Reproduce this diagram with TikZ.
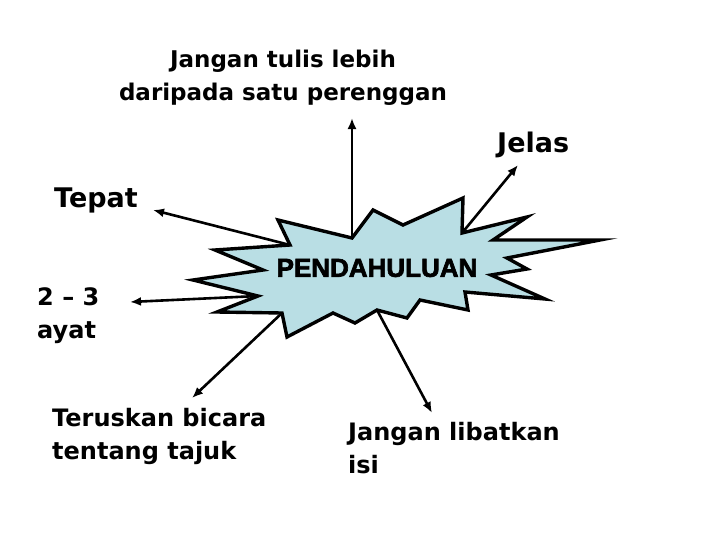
\documentclass[tikz,border=0pt]{standalone}
\usepackage{fontspec}
\usepackage{tikz}
\usetikzlibrary{arrows.meta,positioning}

\newfontfamily\comicfont{DejaVu Sans}
\newfontfamily\heavyfont[FakeBold=2.6]{Liberation Sans Bold}
\definecolor{burstblue}{RGB}{185,222,228}

\begin{document}
\begin{tikzpicture}[x=1pt, y=-1pt,
  >={Latex[length=11pt,width=9pt]},
  every node/.append style={inner sep=0pt},
  lbl/.style={font=\comicfont\bfseries\fontsize{24}{33}\selectfont},
  big/.style={font=\comicfont\bfseries\fontsize{27}{33}\selectfont},
  burst/.style={draw, line width=3.4pt, fill=burstblue, line join=miter, miter limit=20},
  link/.style={->, line width=2.6pt}]
 \useasboundingbox (0,0) rectangle (728,546);

 % the starburst, with named points where the arrows leave it
 \draw[burst] (278,220) -- (352,238) coordinate (pUp) -- (373,210) -- (403,225)
   -- (463,198) -- (462,233) coordinate (pJelas) -- (527,217) -- (493,240)
   -- (600,240) -- (507,258) -- (527,269) -- (491,275) -- (545,299)
   -- (465,292) -- (468,310) -- (420,300) -- (407,318) -- (377,310) coordinate (pIsi)
   -- (355,323) -- (333,313) -- (287,337) -- (282,313) coordinate (pTajuk)
   -- (217,312) -- (258,296) coordinate (pAyat) -- (193,280) -- (263,270)
   -- (215,250) -- (290,245) coordinate (pTepat) -- cycle;
 \node[font=\heavyfont\fontsize{26}{30}\selectfont] (hub) at (377,268) {PENDAHULUAN};

 % labels
 \node[lbl, font=\comicfont\bfseries\fontsize{23}{33}\selectfont, align=center, anchor=north] (lebih) at (283,50) {Jangan tulis lebih\\daripada satu perenggan};
 \node[big, anchor=west] (jelas) at (497,145) {Jelas};
 \node[big, anchor=west] (tepat) at (54,200) {Tepat};
 \node[lbl, align=left, anchor=north west] (ayat) at (37,287) {2 – 3\\ayat};
 \node[lbl, align=left, anchor=north west] (tajuk) at (52,408) {Teruskan bicara\\tentang tajuk};
 \node[lbl, align=left, anchor=north west] (isi) at (348,422) {Jangan libatkan\\isi};

 % arrow tips
 \coordinate (tUp) at (352,118);
 \coordinate (tJelas) at (518,165);
 \coordinate (tTepat) at (153,210);
 \coordinate (tAyat) at (130,302);
 \coordinate (tTajuk) at (192,398);
 \coordinate (tIsi) at (432,413);

 \path[link] (pUp) edge (tUp)
             (pJelas) edge (tJelas)
             (pTepat) edge (tTepat)
             (pAyat) edge (tAyat)
             (pTajuk) edge (tTajuk)
             (pIsi) edge (tIsi);
\end{tikzpicture}
\end{document}
